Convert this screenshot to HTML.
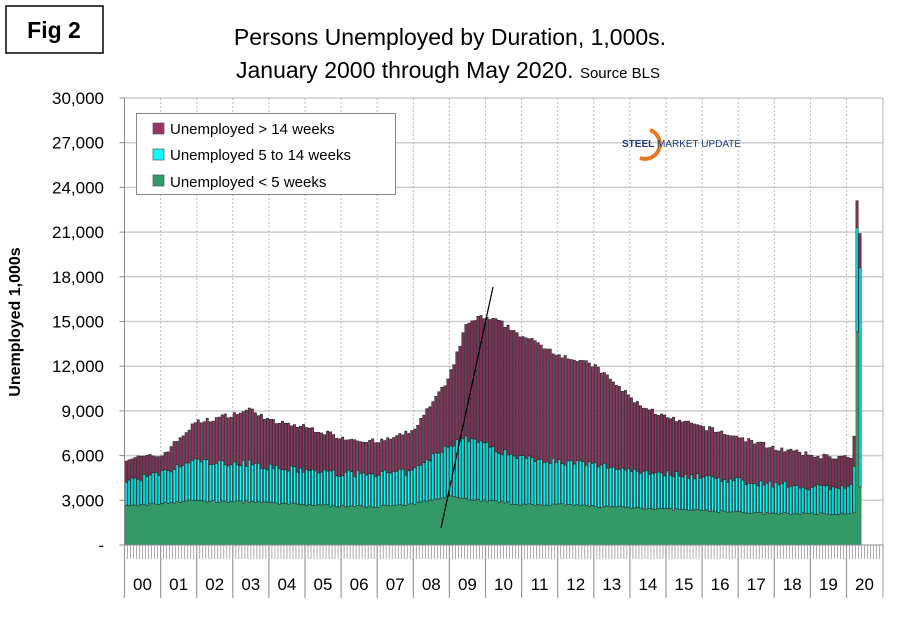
<!DOCTYPE html>
<html><head><meta charset="utf-8">
<style>
body{margin:0;background:#fff;width:910px;height:622px;overflow:hidden;font-family:"Liberation Sans",Arial,sans-serif;}
</style></head><body>
<svg id="s" width="910" height="622" xmlns="http://www.w3.org/2000/svg" font-family="Liberation Sans, Arial, sans-serif">
<rect x="0" y="0" width="910" height="622" fill="#fff"/>
<rect x="6" y="6" width="97" height="47" fill="#fff" stroke="#000" stroke-width="1.5"/>
<text x="54" y="38" font-size="23" font-weight="bold" text-anchor="middle">Fig 2</text>
<text x="450" y="45" font-size="23" text-anchor="middle">Persons Unemployed by Duration, 1,000s.</text>
<text x="448" y="78" font-size="23" text-anchor="middle">January 2000 through May 2020. <tspan font-size="15">Source BLS</tspan></text>
<g id="grid"></g>
<g id="bars"></g>
<line x1="441" y1="528" x2="493" y2="287" stroke="#000" stroke-width="1.2"/>
<g id="axes"></g>
<rect x="136.5" y="113.5" width="259" height="81" fill="#fff" stroke="#888"/>
<rect x="153" y="123" width="11" height="11" fill="#993366" stroke="#555" stroke-width=".7"/>
<text x="170" y="134" font-size="15">Unemployed &gt; 14 weeks</text>
<rect x="153" y="149" width="11" height="11" fill="#00FFFF" stroke="#555" stroke-width=".7"/>
<text x="170" y="160" font-size="15">Unemployed 5 to 14 weeks</text>
<rect x="153" y="175" width="11" height="11" fill="#339966" stroke="#555" stroke-width=".7"/>
<text x="170" y="187" font-size="15">Unemployed &lt; 5 weeks</text>
<path d="M650 130 A14 14 0 1 1 640 158" fill="none" stroke="#e87722" stroke-width="4"/>
<text x="622" y="147" font-size="10" font-weight="bold" fill="#1f3f7a">STEEL</text>
<text x="657" y="147" font-size="10" fill="#1f3f7a">MARKET UPDATE</text>
<text x="20" y="322" font-size="16" font-weight="bold" text-anchor="middle" transform="rotate(-90 20 322)">Unemployed 1,000s</text>
</svg>
<script>
const NS="http://www.w3.org/2000/svg";
function el(p,t,a){const e=document.createElementNS(NS,t);for(const k in a)e.setAttribute(k,a[k]);p.appendChild(e);return e;}
const x0=124.5,mw=36.1/12,Y0=545,sc=447/30000;
const y=v=>Y0-v*sc;
const grid=document.getElementById('grid'),bars=document.getElementById('bars'),axes=document.getElementById('axes');
for(let i=0;i<=10;i++){const v=i*3000;const yy=y(v);
 if(i>0)el(grid,'line',{x1:x0,x2:883,y1:yy,y2:yy,stroke:'#ccc','stroke-width':1.5});
 el(axes,'line',{x1:x0-5,x2:x0,y1:yy,y2:yy,stroke:'#888'});
 const t=el(axes,'text',{x:104,y:yy+6,'font-size':17,'text-anchor':'end'});t.textContent=i==0?'-':v.toLocaleString('en-US');}
for(let k=1;k<=20;k++){const xx=x0+k*36.1;el(grid,'line',{x1:xx,x2:xx,y1:98,y2:545,stroke:'#bbb','stroke-dasharray':'2,2'});}
el(grid,'line',{x1:883,x2:883,y1:98,y2:545,stroke:'#ccc','stroke-width':1.5});
const K=[[0,5800,2600,4300],[12,6000,2800,4800],[23,8200,3000,5700],[30,8500,2900,5500],[42,9100,2900,5500],[48,8300,2800,5200],[60,7900,2700,5000],[72,7200,2600,4800],[84,6900,2600,4800],[95,7600,2700,4900],[107,11000,3300,6700],[113,14700,3100,7200],[117,15300,3000,7000],[124,15000,2900,6300],[132,14000,2700,5900],[144,12800,2700,5600],[156,12000,2600,5400],[170,9500,2500,5000],[180,8500,2400,4800],[192,7900,2300,4600],[204,7200,2200,4300],[216,6500,2100,4100],[228,6000,2100,3900],[241,5850,2100,3900]];
function interp(m,j){for(let i=0;i<K.length-1;i++){if(m>=K[i][0]&&m<=K[i+1][0]){const f=(m-K[i][0])/(K[i+1][0]-K[i][0]);return K[i][j]+f*(K[i+1][j]-K[i][j]);}}return K[K.length-1][j];}
let seed=7;const rnd=()=>{seed=(seed*16807)%2147483647;return seed/2147483647-0.5;};
const D=[];
for(let m=0;m<242;m++){D.push([interp(m,1)+rnd()*350,interp(m,2)+rnd()*150,interp(m,3)+rnd()*450]);}
D.push([7300,2200,5300]);D.push([23100,14300,21300]);D.push([20900,3900,18600]);
let p='M'+x0+' '+Y0;D.forEach((d,i)=>{const xa=x0+i*mw;p+=' L'+xa+' '+y(d[1])+' L'+(xa+mw)+' '+y(d[1]);});p+=' L'+(x0+D.length*mw)+' '+Y0+'Z';
el(bars,'path',{d:p,fill:'#339966'});
D.forEach((d,i)=>{const xa=x0+i*mw+0.4;
 el(bars,'rect',{x:xa,y:y(d[0]),width:mw-0.8,height:y(d[2])-y(d[0]),fill:'#993366',stroke:'#2a2a2a','stroke-width':0.7});
 el(bars,'rect',{x:xa,y:y(d[2]),width:mw-0.8,height:y(d[1])-y(d[2]),fill:'#00FFFF',stroke:'#2a2a2a','stroke-width':0.7});
});
el(axes,'line',{x1:x0,x2:x0,y1:98,y2:598,stroke:'#888'});
el(axes,'line',{x1:x0,x2:883,y1:545,y2:545,stroke:'#888'});
for(let m=0;m<252;m++){const xx=x0+m*mw;el(axes,'line',{x1:xx,x2:xx,y1:545,y2:(m%12==0)?598:559,stroke:'#999','stroke-width':(m%12==0)?1.2:0.8});}
el(axes,'line',{x1:883,x2:883,y1:545,y2:598,stroke:'#999'});
for(let k=0;k<21;k++){const t=el(axes,'text',{x:x0+k*36.1+18,y:590,'font-size':17,'text-anchor':'middle'});t.textContent=String(k).padStart(2,'0');}
</script>
</body></html>
